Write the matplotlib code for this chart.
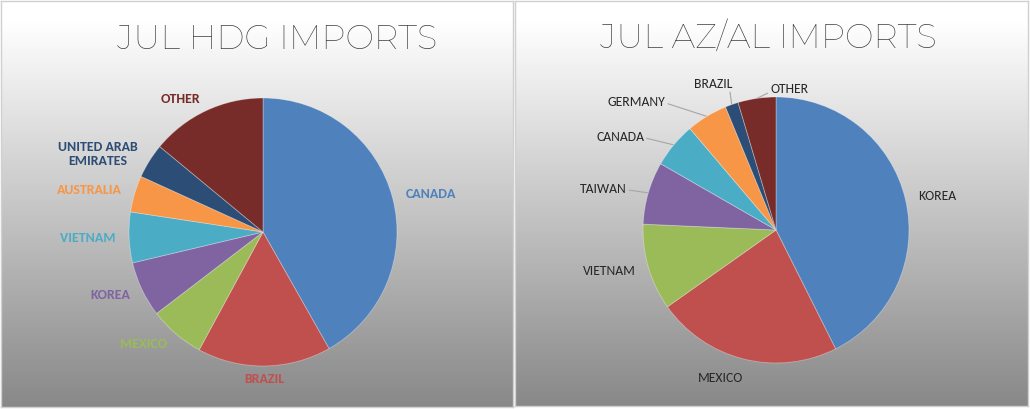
import numpy as np
import matplotlib
matplotlib.use("Agg")
import matplotlib.pyplot as plt

W, H = 1030, 409

# ---------------- data ----------------
hdg_countries = ["CANADA", "BRAZIL", "MEXICO", "KOREA", "VIETNAM", "AUSTRALIA",
                 "UNITED ARAB\nEMIRATES", "OTHER"]
hdg_share = [41.8, 16.1, 6.7, 6.7, 6.1, 4.4, 4.2, 14.0]

azal_countries = ["KOREA", "MEXICO", "VIETNAM", "TAIWAN", "CANADA", "GERMANY",
                  "BRAZIL", "OTHER"]
azal_share = [42.6, 22.6, 10.5, 7.6, 5.5, 5.0, 1.6, 4.6]

titles = ["JUL HDG IMPORTS", "JUL AZ/AL IMPORTS"]

# ---------------- style ----------------
colors = ["#4F81BD", "#C0504D", "#9BBB59", "#8064A2", "#4BACC6", "#F79646",
          "#2C4D75", "#772C2A"]
title_font = ["Montserrat", "Open Sans", "DejaVu Sans"]
label_font = ["Carlito", "Lato", "DejaVu Sans"]

fig = plt.figure(figsize=(W / 100, H / 100), dpi=100)
fig.patch.set_facecolor("white")


def px_axes(x0, y0, w, h):
    return fig.add_axes([x0 / W, (H - y0 - h) / H, w / W, h / H])


def panel_bg(x0, y0, w, h):
    ax = px_axes(x0, y0, w, h)
    grad = np.linspace(0, 1, 256)
    top, bot = 1.0, 0.535
    vals = np.clip((grad - 0.05) / 0.95, 0, 1)
    col = top + (bot - top) * vals
    img = np.dstack([col, col, col]).reshape(256, 1, 3)
    ax.imshow(img, aspect="auto", extent=[0, 1, 1, 0], interpolation="bilinear")
    ax.set_xlim(0, 1)
    ax.set_ylim(1, 0)
    ax.set_xticks([])
    ax.set_yticks([])
    for s in ax.spines.values():
        s.set_color("#d0d0d0")
        s.set_linewidth(1.0)
    return ax


panel_bg(1, 1, 512, 406)
panel_bg(515, 1, 513, 405)

fig.text(277 / W, 1 - 40 / H, titles[0], ha="center", va="center",
         fontsize=24.5, color="#3d3d3d", family=title_font, fontweight=300)
fig.text(768 / W, 1 - 39 / H, titles[1], ha="center", va="center",
         fontsize=24.5, color="#3d3d3d", family=title_font, fontweight=300)


def pie_axes(cx, cy, r, s=1.8):
    half = r * s
    ax = px_axes(cx - half, cy - half, 2 * half, 2 * half)
    ax.set_xlim(-s, s)
    ax.set_ylim(-s, s)
    ax.axis("off")
    return ax


# ---------------- left pie ----------------
axL = pie_axes(263, 232, 134)
wedges, texts = axL.pie(hdg_share, labels=hdg_countries, colors=colors,
                        startangle=90, counterclock=False, labeldistance=1.1,
                        wedgeprops=dict(edgecolor=(1, 1, 1, 0.35), linewidth=0.6),
                        textprops=dict(fontsize=10, fontweight="bold",
                                       family=label_font))
axL.set_xlim(-1.8, 1.8)
axL.set_ylim(-1.8, 1.8)
for t, c in zip(texts, colors):
    t.set_color(c)
    t.set_multialignment("center")
texts[1].set_ha("center")
texts[1].set_va("top")
x, y = texts[1].get_position()
texts[1].set_position((x, y + 0.05))

# ---------------- right pie ----------------
axR = pie_axes(776, 230, 133)
wedgesR, textsR = axR.pie(azal_share, labels=None, colors=colors,
                          startangle=90, counterclock=False,
                          wedgeprops=dict(edgecolor=(1, 1, 1, 0.35), linewidth=0.6))
axR.set_xlim(-1.8, 1.8)
axR.set_ylim(-1.8, 1.8)

# label placement (text anchor, alignment) and whether a leader line is used
label_layout = {
    "KOREA":   ((None, None), "left", False),
    "MEXICO":  ((-0.25, -1.11), "right", False),
    "VIETNAM": ((None, None), "right", False),
    "TAIWAN":  ((-1.12, 0.31), "right", True),
    "CANADA":  ((-0.99, 0.70), "right", True),
    "GERMANY": ((-0.83, 0.96), "right", True),
    "BRAZIL":  ((-0.47, 1.10), "center", True),
    "OTHER":   ((-0.04, 1.06), "left", True),
}
for wdg, name in zip(wedgesR, azal_countries):
    mid = np.deg2rad((wdg.theta1 + wdg.theta2) / 2)
    ex, ey = np.cos(mid), np.sin(mid)
    (tx, ty), ha, leader = label_layout[name]
    if tx is None:
        tx, ty = 1.1 * ex, 1.1 * ey
    kw = dict(fontsize=9.8, color="#262626", family=label_font, ha=ha, va="center")
    if leader:
        if name == "BRAZIL":
            lx, ly = 1.04 * ex, ty - 0.06
        elif name == "OTHER":
            lx, ly = tx - 0.02, ty - 0.03
        else:
            lx, ly = tx + 0.015, ty - 0.01
        axR.plot([lx, 1.0 * ex], [ly, 1.0 * ey], color="#a6a6a6", lw=0.8,
                 solid_capstyle="butt", zorder=0.5)
    axR.text(tx, ty, name, **kw)

fig.savefig("out.png", dpi=100)
